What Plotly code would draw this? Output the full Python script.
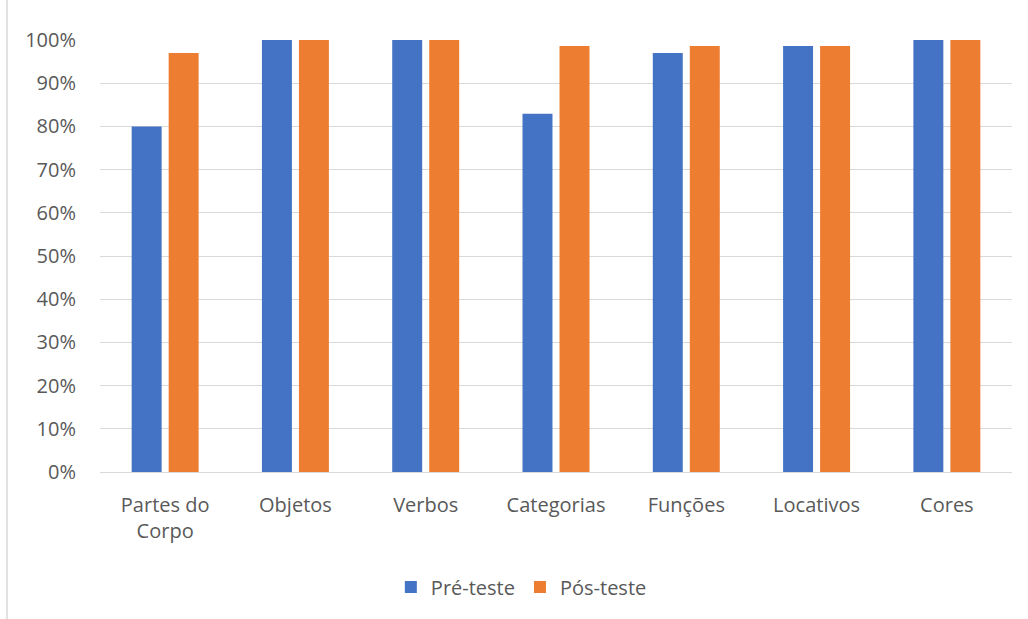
import plotly.graph_objects as go

categorias = ["Partes do<br>Corpo", "Objetos", "Verbos", "Categorias", "Funções", "Locativos", "Cores"]
pre_teste = [0.80, 1.00, 1.00, 0.829, 0.97, 0.986, 1.00]
pos_teste = [0.97, 1.00, 1.00, 0.986, 0.986, 0.986, 1.00]
y_ticks = [i / 10 for i in range(11)]

AZUL = "#4472C4"
LARANJA = "#ED7D31"
TEXTO = "#595959"
GRADE = "#D9D9D9"
FONTE = "Open Sans, Lato, sans-serif"

fig = go.Figure()
fig.add_trace(go.Bar(name="Pré-teste", x=categorias, y=pre_teste, marker_color=AZUL,
                     marker_line_width=0))
fig.add_trace(go.Bar(name="Pós-teste", x=categorias, y=pos_teste, marker_color=LARANJA,
                     marker_line_width=0))

fig.update_layout(
    width=1028, height=619,
    margin=dict(l=100, r=16, t=40, b=147),
    paper_bgcolor="white", plot_bgcolor="white",
    barmode="group", bargap=0.432, bargroupgap=0.19,
    font=dict(family=FONTE, size=20, color=TEXTO),
    legend=dict(orientation="h", x=0.462, xanchor="center", y=-0.266, yanchor="middle",
                font=dict(size=20, color=TEXTO), itemwidth=30, traceorder="normal"),
    showlegend=True,
)
fig.update_yaxes(range=[0, 1.0], tickvals=y_ticks, tickformat=".0%",
                 showgrid=True, gridcolor=GRADE, gridwidth=1,
                 zeroline=True, zerolinecolor=GRADE, zerolinewidth=1,
                 showline=False, ticks="", ticklabelstandoff=23,
                 tickfont=dict(size=20, color=TEXTO))
fig.update_xaxes(showline=True, linecolor=GRADE, linewidth=1, ticks="",
                 ticklabelstandoff=15, tickfont=dict(size=20, color=TEXTO))

# moldura do gráfico (lado esquerdo)
fig.add_shape(type="line", xref="paper", yref="paper",
              x0=-0.102, x1=-0.102, y0=-0.35, y1=1.1,
              line=dict(color=GRADE, width=1.5))

fig.write_html("out.html")
